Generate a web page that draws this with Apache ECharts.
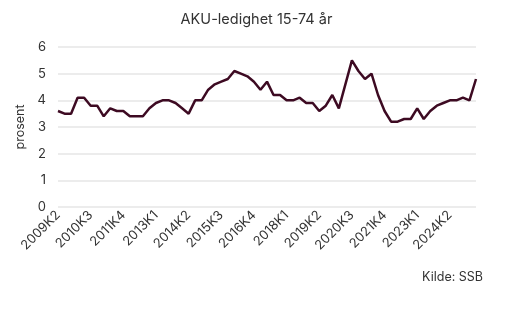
<!DOCTYPE html>
<html>
<head>
<meta charset="utf-8">
<script src="https://cdn.jsdelivr.net/npm/echarts@6/dist/echarts.min.js"></script>
<style>
  html, body { margin: 0; padding: 0; background: #fff; }
  #chart { width: 513px; height: 326px; }
</style>
</head>
<body>
<div id="chart"></div>
<script>
// Quarters, 2009K2 – 2025K2
const quarters = [
  '2009K2','2009K3','2009K4',
  '2010K1','2010K2','2010K3','2010K4',
  '2011K1','2011K2','2011K3','2011K4',
  '2012K1','2012K2','2012K3','2012K4',
  '2013K1','2013K2','2013K3','2013K4',
  '2014K1','2014K2','2014K3','2014K4',
  '2015K1','2015K2','2015K3','2015K4',
  '2016K1','2016K2','2016K3','2016K4',
  '2017K1','2017K2','2017K3','2017K4',
  '2018K1','2018K2','2018K3','2018K4',
  '2019K1','2019K2','2019K3','2019K4',
  '2020K1','2020K2','2020K3','2020K4',
  '2021K1','2021K2','2021K3','2021K4',
  '2022K1','2022K2','2022K3','2022K4',
  '2023K1','2023K2','2023K3','2023K4',
  '2024K1','2024K2','2024K3','2024K4',
  '2025K1','2025K2'
];

// AKU unemployment rate, percent
const unemployment = [
  3.6, 3.5, 3.5, 4.1, 4.1, 3.8, 3.8, 3.4, 3.7, 3.6,
  3.6, 3.4, 3.4, 3.4, 3.7, 3.9, 4.0, 4.0, 3.9, 3.7,
  3.5, 4.0, 4.0, 4.4, 4.6, 4.7, 4.8, 5.1, 5.0, 4.9,
  4.7, 4.4, 4.7, 4.2, 4.2, 4.0, 4.0, 4.1, 3.9, 3.9,
  3.6, 3.8, 4.2, 3.7, 4.6, 5.5, 5.1, 4.8, 5.0, 4.2,
  3.6, 3.2, 3.2, 3.3, 3.3, 3.7, 3.3, 3.6, 3.8, 3.9,
  4.0, 4.0, 4.1, 4.0, 4.8
];

const titleText = 'AKU-ledighet 15-74 år';
const yAxisName = 'prosent';
const sourceText = 'Kilde: SSB';

const font = 'Inter, "Noto Sans", sans-serif';
const chart = echarts.init(document.getElementById('chart'), null, { renderer: 'canvas' });

chart.setOption({
  backgroundColor: '#ffffff',
  animation: false,
  textStyle: { fontFamily: font },
  title: [
    {
      text: titleText,
      left: 'center',
      top: 7,
      textStyle: { fontFamily: font, fontSize: 14.5, fontWeight: 'normal', color: '#333' }
    },
    {
      text: sourceText,
      right: 25,
      top: 266,
      textStyle: { fontFamily: font, fontSize: 12.5, fontWeight: 'normal', color: '#333' }
    }
  ],
  grid: { left: 58, right: 37, top: 47, bottom: 119, containLabel: false },
  xAxis: {
    type: 'category',
    data: quarters,
    boundaryGap: false,
    axisLine: { show: false },
    axisTick: { show: false },
    axisLabel: {
      interval: 4,
      rotate: 45,
      margin: 6,
      fontSize: 13,
      color: '#333',
      fontFamily: font
    },
    splitLine: { show: false }
  },
  yAxis: {
    type: 'value',
    min: 0,
    max: 6,
    interval: 1,
    name: yAxisName,
    nameLocation: 'middle',
    nameGap: 30,
    nameTextStyle: { fontSize: 12.5, color: '#333', fontFamily: font },
    axisLine: { show: false },
    axisTick: { show: false },
    axisLabel: { fontSize: 13, color: '#333', margin: 12, fontFamily: font },
    splitLine: { lineStyle: { color: '#e6e6e6', width: 1.5 } }
  },
  series: [
    {
      type: 'line',
      data: unemployment,
      symbol: 'none',
      lineStyle: { color: '#3d0a22', width: 2.5 },
      itemStyle: { color: '#3d0a22' }
    }
  ]
});
</script>
</body>
</html>
